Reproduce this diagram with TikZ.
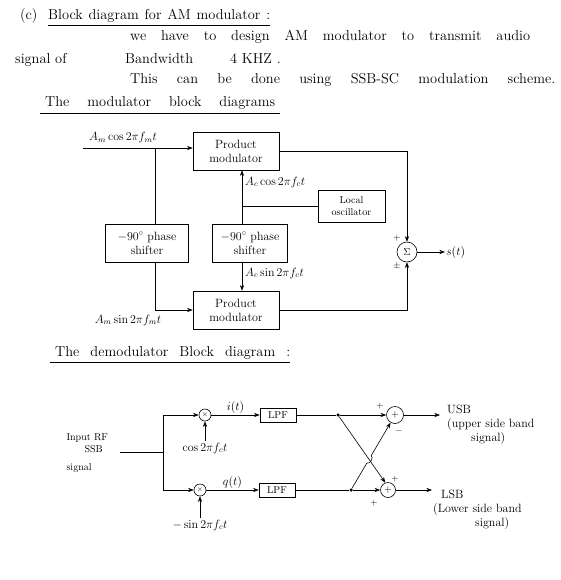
\documentclass[tikz,border=0pt]{standalone}
\usepackage{amsmath, amssymb}
\usepackage{tikz}
\usetikzlibrary{arrows.meta, positioning, calc}

\begin{document}
\begin{tikzpicture}[
    x=1pt, y=-1pt,
    block/.style={draw, semithick, minimum width=86pt, minimum height=38pt, align=center, font=\large},
    smallblock/.style={draw, semithick, minimum width=36pt, minimum height=14pt, inner sep=1pt, font=\normalsize},
    arrow/.style={->, >=Stealth, semithick},
    sum/.style={draw, circle, semithick, minimum size=20pt, inner sep=0pt, font=\normalsize},
    mult/.style={draw, circle, semithick, minimum size=12pt, inner sep=0pt, font=\scriptsize},
    lbl/.style={font=\large, inner sep=1pt},
    sign/.style={font=\small, inner sep=0pt},
    note/.style={anchor=base west, font=\Large, inner sep=0pt},
    dot/.style={circle, fill, inner sep=0pt, minimum size=3.5pt}
]
    \useasboundingbox (0,0) rectangle (560,580);

    % Heading and text
    \node[note] (tag) at (20,20) {(c)};
    \node[note] (head) at (48,20) {\makebox[222pt][s]{Block diagram for AM modulator :}};
    \draw ([yshift=-2pt]head.south west) -- ([yshift=-2pt]head.south east);
    \node[note] (line1) at (130,41) {\makebox[400pt][s]{we have to design AM modulator to transmit audio}};
    \node[note] (line2a) at (15,64) {signal of};
    \node[note] (line2b) at (125,64) {Bandwidth};
    \node[note] (line2c) at (230,64) {4 KHZ .};
    \node[note] (line3) at (130,84) {\makebox[425pt][s]{This can be done using SSB-SC modulation scheme.}};
    \node[note] (modhead) at (45,107) {\makebox[230pt][s]{The modulator block diagrams}};
    \draw ([xshift=-5pt, yshift=-3pt]modhead.south west) -- ([xshift=5pt, yshift=-3pt]modhead.south east);

    % Product modulators
    \node[block] (pm1) at (236,151) {Product\\modulator};
    \node[block] (pm2) at (236,310) {Product\\modulator};

    % Phase shifters
    \node[block, minimum width=83pt] (ps1) at (147,243) {$-90^\circ$ phase\\shifter};
    \node[block, minimum width=75pt] (ps2) at (250,243) {$-90^\circ$ phase\\shifter};

    % Local oscillator
    \node[block, minimum width=67pt, minimum height=32pt, font=\normalsize] (lo) at (351.5,206) {Local\\oscillator};

    % Summer
    \node[sum] (sum) at (407,252) {$\Sigma$};

    \coordinate (in1) at (83,148);
    \coordinate (br1) at (155,148);
    \coordinate (br2) at (242,206);
    \coordinate (out1) at (445,252);

    % Arrows
    \draw[arrow] (in1) -- (in1 -| pm1.west);
    \draw (br1) -- (br1 |- ps1.north);
    \draw[arrow] (br1 |- ps1.south) |- (pm2.west);
    \draw (lo.west) -- (br2);
    \draw[arrow] (br2 |- ps2.north) -- (br2 |- pm1.south);
    \draw[arrow] (br2 |- ps2.south) -- (br2 |- pm2.north);
    \draw[arrow] (pm1.east) -| (sum.north);
    \draw[arrow] (pm2.east) -| (sum.south);
    \draw[arrow] (sum.east) -- (out1);

    % Labels
    \node[lbl] (amcos) at (123,138) {$A_m\cos 2\pi f_m t$};
    \node[lbl, anchor=west] (accos) at (244,182) {$A_c\cos 2\pi f_c t$};
    \node[lbl, anchor=west] (acsin) at (244,273) {$A_c\sin 2\pi f_c t$};
    \node[lbl] (amsin) at (128,320) {$A_m\sin 2\pi f_m t$};
    \node[lbl, right] (st) at (out1) {$s(t)$};
    \node[sign] at (397,238) {$+$};
    \node[sign] at (397,266) {$\pm$};

    % Demodulator
    \node[note] (demhead) at (55,356) {\makebox[235pt][s]{The demodulator Block diagram :}};
    \draw ([xshift=-5pt, yshift=-3pt]demhead.south west) -- ([yshift=-3pt]demhead.south east);

    \node[anchor=north west, align=left, font=\normalsize] (rfin) at (63,430) {Input RF\\\hspace*{18pt}SSB\\[6pt]signal};
    \coordinate (rfend) at (120,452);
    \coordinate (split) at (163,452);

    % Multipliers and filters
    \node[mult] (m1) at (205,415) {$\times$};
    \node[mult] (m2) at (200,490) {$\times$};
    \node[lbl] (cosl) at (205,448) {$\cos 2\pi f_c t$};
    \node[lbl] (sinl) at (200,525) {$-\sin 2\pi f_c t$};
    \node[smallblock] (lpf1) at (278,415) {LPF};
    \node[smallblock] (lpf2) at (277,490) {LPF};

    % Adders
    \node[sum, minimum size=17pt] (a1) at (395,415) {$+$};
    \node[sum, minimum size=15pt] (a2) at (388,490) {$+$};
    \node[dot] (ud) at (338,415) {};
    \node[dot] (ld) at (351,490) {};
    \coordinate (usbend) at (440,415);
    \coordinate (lsbend) at (432,490);

    \draw (rfend) -- (split);
    \draw[arrow] (split) |- (m1);
    \draw[arrow] (split) |- (m2);
    \draw[arrow] (cosl) -- (m1);
    \draw[arrow] (sinl) -- (m2);
    \draw[arrow] (m1) -- node[above, lbl] {$i(t)$} (lpf1);
    \draw[arrow] (m2) -- node[above, lbl] {$q(t)$} (lpf2);
    \draw (lpf1) -- (ud);
    \draw[arrow] (ud) -- (a1);
    \draw (lpf2) -- (ld);
    \draw[arrow] (ld) -- (a2);

    % Cross connections
    \draw[arrow] (ud) -- (a2.110);
    \draw[arrow] (ld) -- ($(ld)!0.40!(a1.240)$) to[bend right=90] ($(ld)!0.51!(a1.240)$) -- (a1.240);

    \node[sign] at (380,406) {$+$};
    \node[sign] at (399,431) {$-$};
    \node[sign] at (395,479) {$+$};
    \node[sign] at (374,503) {$+$};

    % Outputs
    \draw[arrow] (a1) -- (usbend);
    \draw[arrow] (a2) -- (lsbend);
    \node[anchor=north west, align=left, font=\large, inner sep=0pt] (usb) at (447,405) {USB\\(upper side band\\\hspace*{24pt}signal)};
    \node[anchor=north west, align=left, font=\large, inner sep=0pt] (lsb) at (433,490) {\hspace*{8pt}LSB\\(Lower side band\\\hspace*{42pt}signal)};

\end{tikzpicture}
\end{document}
